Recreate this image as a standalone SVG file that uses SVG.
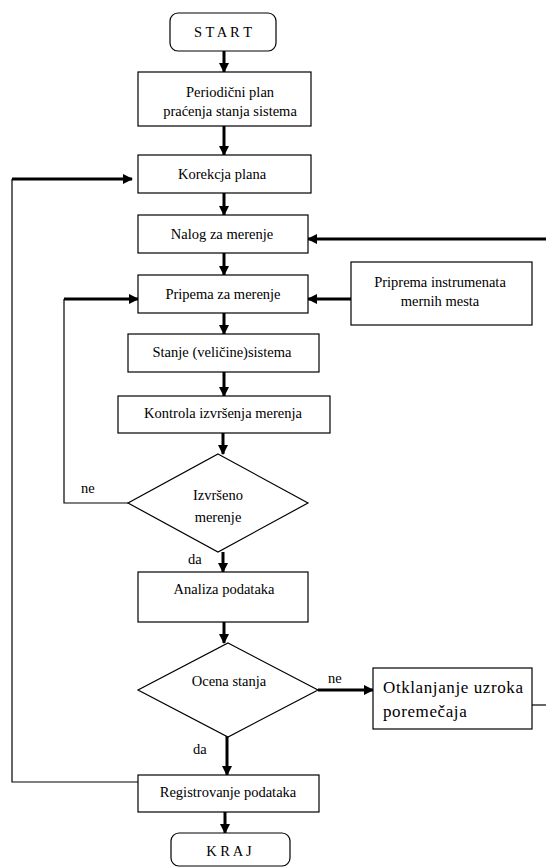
<svg xmlns="http://www.w3.org/2000/svg" width="546" height="868" viewBox="0 0 546 868">
<style>
.box{fill:#fff;stroke:#000;stroke-width:1.2}
.t{font-family:"Liberation Serif","Times New Roman",serif;font-size:14.5px;fill:#000;text-anchor:middle}
.tl{font-family:"Liberation Serif","Times New Roman",serif;font-size:14.5px;fill:#000}
.big{font-family:"Liberation Serif","Times New Roman",serif;font-size:17px;fill:#000;letter-spacing:0.6px}
.thick{fill:none;stroke:#000;stroke-width:3}
.thin{fill:none;stroke:#000;stroke-width:1.2}
</style>
<defs>
<marker id="ah" markerWidth="10" markerHeight="10" refX="9" refY="5" orient="auto" markerUnits="userSpaceOnUse">
<path d="M0,0 L10,5 L0,10 Z" fill="#000"/>
</marker>
</defs>
<rect width="546" height="868" fill="#fff"/>
<g id="connectors">
<line class="thick" x1="224" y1="51" x2="224" y2="72" marker-end="url(#ah)"/>
<line class="thick" x1="224" y1="126" x2="224" y2="155" marker-end="url(#ah)"/>
<line class="thick" x1="224" y1="193" x2="224" y2="215" marker-end="url(#ah)"/>
<line class="thick" x1="224" y1="253" x2="224" y2="275" marker-end="url(#ah)"/>
<line class="thick" x1="224" y1="313" x2="224" y2="334" marker-end="url(#ah)"/>
<line class="thick" x1="224" y1="372" x2="224" y2="396" marker-end="url(#ah)"/>
<line class="thick" x1="223" y1="433" x2="223" y2="454" marker-end="url(#ah)"/>
<line class="thick" x1="223" y1="552" x2="223" y2="572" marker-end="url(#ah)"/>
<line class="thick" x1="224" y1="622" x2="224" y2="643" marker-end="url(#ah)"/>
<line class="thick" x1="227" y1="736" x2="227" y2="775" marker-end="url(#ah)"/>
<line class="thick" x1="225" y1="812" x2="225" y2="833" marker-end="url(#ah)"/>
<line class="thick" x1="546" y1="239" x2="308" y2="239" marker-end="url(#ah)"/>
<line class="thick" x1="351" y1="299" x2="308" y2="299" marker-end="url(#ah)"/>
<polyline class="thin" points="128,503 64,503 64,299"/>
<line class="thick" x1="64" y1="299" x2="138" y2="299" marker-end="url(#ah)"/>
<line class="thick" x1="318" y1="690" x2="373" y2="690" marker-end="url(#ah)"/>
<line class="thin" x1="532" y1="705" x2="546" y2="705"/>
<polyline class="thin" points="138,782 12,782 12,179"/>
<line class="thick" x1="12" y1="179" x2="132" y2="179" marker-end="url(#ah)"/>
</g>
<g id="start"><rect class="box" x="170" y="13" width="106" height="38" rx="8"/><text class="t" x="223" y="37">S T A R T</text></g>
<g id="periodicni"><rect class="box" x="138" y="72" width="173" height="54"/><text class="t" x="230" y="97">Periodični plan</text><text class="t" x="230" y="116">praćenja stanja sistema</text></g>
<g id="korekcja"><rect class="box" x="138" y="155" width="173" height="38"/><text class="t" x="222" y="179">Korekcja plana</text></g>
<g id="nalog"><rect class="box" x="138" y="215" width="170" height="38"/><text class="t" x="222" y="239">Nalog za merenje</text></g>
<g id="pripema"><rect class="box" x="138" y="275" width="170" height="38"/><text class="t" x="223" y="299">Pripema za merenje</text></g>
<g id="priprema-instrumenata"><rect class="box" x="351" y="262" width="181" height="63"/><text class="t" x="440" y="287">Priprema instrumenata</text><text class="t" x="440" y="306">mernih mesta</text></g>
<g id="stanje"><rect class="box" x="128" y="334" width="191" height="38"/><text class="t" x="222" y="357">Stanje (veličine)sistema</text></g>
<g id="kontrola"><rect class="box" x="118" y="396" width="212" height="37"/><text class="t" x="223" y="418">Kontrola izvršenja merenja</text></g>
<g id="izvrseno"><polygon class="box" points="218,454 308,503 218,552 128,503"/><text class="t" x="218" y="500">Izvršeno</text><text class="t" x="218" y="522">merenje</text><text class="tl" x="81" y="493">ne</text><text class="tl" x="188" y="564">da</text></g>
<g id="analiza"><rect class="box" x="138" y="572" width="170" height="50"/><text class="t" x="224" y="594">Analiza podataka</text></g>
<g id="ocena"><polygon class="box" points="228,643 318,690 228,737 138,690"/><text class="t" x="229" y="686">Ocena stanja</text><text class="tl" x="328" y="683">ne</text><text class="tl" x="193" y="754">da</text></g>
<g id="otklanjanje"><rect class="box" x="373" y="668" width="159" height="61"/><text class="big" x="383" y="693">Otklanjanje uzroka</text><text class="big" x="383" y="717">poremečaja</text></g>
<g id="registrovanje"><rect class="box" x="138" y="775" width="181" height="37"/><text class="t" x="228" y="797">Registrovanje podataka</text></g>
<g id="kraj"><rect class="box" x="171" y="833" width="119" height="33" rx="8"/><text class="t" x="229" y="856">K R A J</text></g>
</svg>
